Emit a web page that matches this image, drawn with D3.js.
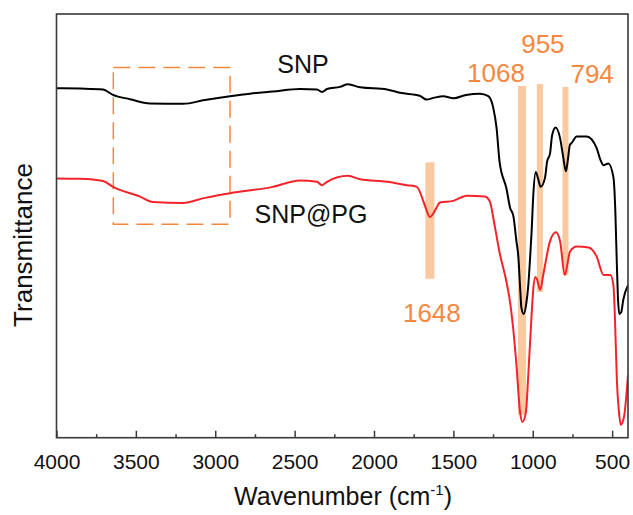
<!DOCTYPE html>
<html>
<head>
<meta charset="utf-8">
<script src="https://cdn.jsdelivr.net/npm/d3@7"></script>
<style>
  html, body { margin: 0; padding: 0; background: #fff; }
  svg { display: block; font-family: "Liberation Sans", Arial, sans-serif; }
</style>
</head>
<body>
<svg id="chart" width="633" height="515"></svg>
<script>
// FTIR spectra of SNP and SNP@PG (transmittance, arbitrary units)
const waveSNP = [4000, 3852, 3707, 3644, 3537, 3411, 3203, 3065, 2907, 2781, 2637, 2467, 2359, 2328, 2296, 2214, 2164, 2088, 1918,
  1836, 1712, 1669, 1625, 1563, 1500, 1420, 1333, 1280, 1249, 1228, 1209, 1165, 1143, 1122, 1103, 1091, 1078, 1072, 1057, 1041,
  1028, 1016, 1007, 997, 981, 966, 950, 922, 910, 891, 878, 856, 828, 810, 791, 779, 766, 754, 723, 660, 598, 573, 554, 524,
  492, 480, 471, 464, 455, 442, 430, 400];
const tSNP = [82.5, 82.4, 82.2, 80.9, 79.9, 78.9, 78.8, 79.7, 80.6, 81.2, 81.7, 82.3, 82.2, 81.6, 82.3, 82.8, 83.4, 82.7, 82.2,
  81.4, 80.7, 79.8, 80.2, 80.6, 80.1, 80.9, 81.2, 80.6, 77.9, 73.1, 65.1, 58.7, 54.3, 52.3, 46.4, 42.8, 34.4, 30.8, 29.2, 31.6,
  36.0, 42.9, 48.8, 57.0, 62.7, 61.1, 59.2, 61.5, 65.1, 67.1, 71.4, 73.2, 70.7, 66.7, 62.9, 65.5, 69.1, 69.6, 71.1, 71.1, 68.4, 65.5, 64.3, 64.7,
  61.5, 53.7, 41.9, 33.7, 29.2, 29.7, 32.5, 36.0];

const waveSNPPG = [4000, 3852, 3707, 3644, 3474, 3392, 3203, 3065, 2907, 2637, 2467, 2359, 2328, 2296, 2164, 2088, 1918,
  1793, 1730, 1690, 1669, 1648, 1625, 1606, 1585, 1500, 1416, 1303, 1272, 1241, 1210, 1165, 1143, 1122, 1103, 1080, 1065,
  1043, 1028, 1007, 997, 984, 975, 953, 934, 891, 854, 828, 798, 779, 766, 723, 648, 598, 554, 511, 492, 483, 470, 458, 445,
  436, 423, 400];
const tSNPPG = [61.2, 61.1, 60.6, 59.2, 56.9, 55.6, 55.4, 56.6, 57.7, 59.2, 60.7, 60.4, 59.6, 60.4, 61.8, 61.0, 60.4,
  59.6, 59.2, 55.9, 53.7, 52.1, 53.0, 54.3, 55.5, 55.9, 57.1, 56.9, 55.9, 50.3, 43.9, 36.7, 32.0, 25.3, 17.3, 6.1, 3.7,
  6.1, 14.9, 29.2, 34.9, 37.9, 37.5, 34.9, 38.4, 46.4, 48.5, 46.4, 38.4, 41.5, 43.9, 45.1, 44.9, 42.8, 38.4, 38.4, 36.0, 29.2, 13.4, 6.5, 3.0,
  3.5, 5.4, 14.8];

// Assigned bands and the extent of their highlight bars
const peakWaves = [1648, 1068, 955, 794];
const peakLabels = ["1648", "1068", "955", "794"];
const peakTop = [65.0, 83.0, 83.5, 82.8];
const peakBottom = [37.5, 5.4, 34.4, 38.4];

// Region of the broad O–H band
const boxWaves = [3642, 2907];
const boxT = [87.4, 50.4];

const seriesNames = ["SNP", "SNP@PG"];
const xTicks = [4000, 3500, 3000, 2500, 2000, 1500, 1000, 500];
const xMinorTicks = [3750, 3250, 2750, 2250, 1750, 1250, 750];

const W = 633, H = 515;
const margin = { left: 56.5, right: 5, top: 14, bottom: 77.3 };
const orange = "#f5883f";
const peach = "#fbc9a0";

const svg = d3.select("#chart");
const x = d3.scaleLinear().domain([4000, 400]).range([margin.left, W - margin.right]);
const y = d3.scaleLinear().domain([0, 100]).range([H - margin.bottom, margin.top]);

// highlight bars behind the spectra
const barWidths = [9, 8, 6, 6];
svg.append("g").selectAll("rect").data(peakWaves).join("rect")
  .attr("x", (d, i) => x(d) - barWidths[i] / 2)
  .attr("width", (d, i) => barWidths[i])
  .attr("y", (d, i) => y(peakTop[i]))
  .attr("height", (d, i) => y(peakBottom[i]) - y(peakTop[i]))
  .attr("fill", peach);

// dashed box
svg.append("rect")
  .attr("x", x(boxWaves[0])).attr("y", y(boxT[0]))
  .attr("width", x(boxWaves[1]) - x(boxWaves[0]))
  .attr("height", y(boxT[1]) - y(boxT[0]))
  .attr("fill", "none").attr("stroke", orange).attr("stroke-width", 1.5)
  .attr("stroke-dasharray", "17,8");

// spectra
const line = d3.line().x(d => x(d[0])).y(d => y(d[1])).curve(d3.curveMonotoneX);
svg.append("clipPath").attr("id", "plotclip").append("rect")
  .attr("x", margin.left).attr("y", margin.top)
  .attr("width", W - margin.left - margin.right).attr("height", H - margin.top - margin.bottom);
const spectra = [
  { pts: d3.zip(waveSNP, tSNP), color: "#000000" },
  { pts: d3.zip(waveSNPPG, tSNPPG), color: "#f2242a" }
];
svg.append("g").attr("clip-path", "url(#plotclip)").selectAll("path").data(spectra).join("path")
  .attr("d", d => line(d.pts))
  .attr("fill", "none").attr("stroke", d => d.color)
  .attr("stroke-width", 2).attr("stroke-linejoin", "round");

// frame
svg.append("rect")
  .attr("x", margin.left).attr("y", margin.top)
  .attr("width", W - margin.left - margin.right).attr("height", H - margin.top - margin.bottom)
  .attr("fill", "none").attr("stroke", "#3a3a3a").attr("stroke-width", 1.6);

// bottom axis with inward ticks
const xAxis = d3.axisBottom(x).tickValues(xTicks).tickFormat(d3.format("d"))
  .tickSizeInner(-7).tickSizeOuter(0).tickPadding(16);
const gx = svg.append("g").attr("transform", `translate(0,${H - margin.bottom})`).call(xAxis);
gx.select(".domain").remove();
gx.selectAll(".tick line").attr("stroke", "#3a3a3a").attr("stroke-width", 1.5);
gx.selectAll(".tick text").attr("font-size", 21).attr("fill", "#111")
  .attr("font-family", "Liberation Sans, Arial, sans-serif");
const gxm = svg.append("g").attr("transform", `translate(0,${H - margin.bottom})`)
  .call(d3.axisBottom(x).tickValues(xMinorTicks).tickSizeInner(-3.5).tickSizeOuter(0).tickFormat(""));
gxm.select(".domain").remove();
gxm.selectAll(".tick line").attr("stroke", "#3a3a3a").attr("stroke-width", 1.5);

// axis titles
const xt = svg.append("text").attr("x", 343).attr("y", 505).attr("text-anchor", "middle")
  .attr("font-size", 25).attr("fill", "#111");
xt.append("tspan").text("Wavenumber (cm");
xt.append("tspan").attr("dy", -10).attr("font-size", 15).text("-1");
xt.append("tspan").attr("dy", 10).text(")");

svg.append("text").attr("transform", "translate(32,245) rotate(-90)")
  .attr("text-anchor", "middle").attr("font-size", 26).attr("fill", "#111").text("Transmittance");

// series names
svg.append("text").attr("x", 303).attr("y", 73.3).attr("text-anchor", "middle")
  .attr("font-size", 25).attr("fill", "#111").text(seriesNames[0]);
svg.append("text").attr("x", 311).attr("y", 223.3).attr("text-anchor", "middle")
  .attr("font-size", 25).attr("fill", "#111").text(seriesNames[1]);

// peak labels
const labelPlace = [
  { dx: 2, y: 321.7, anchor: "middle" },
  { dx: 3, y: 81.7, anchor: "end" },
  { dx: 3, y: 53, anchor: "middle" },
  { dx: 5, y: 83.3, anchor: "start" }
];
svg.append("g").selectAll("text").data(peakWaves).join("text")
  .attr("x", (d, i) => x(d) + labelPlace[i].dx)
  .attr("y", (d, i) => labelPlace[i].y)
  .attr("text-anchor", (d, i) => labelPlace[i].anchor)
  .attr("font-size", 26).attr("fill", orange)
  .text((d, i) => peakLabels[i]);
</script>
</body>
</html>
